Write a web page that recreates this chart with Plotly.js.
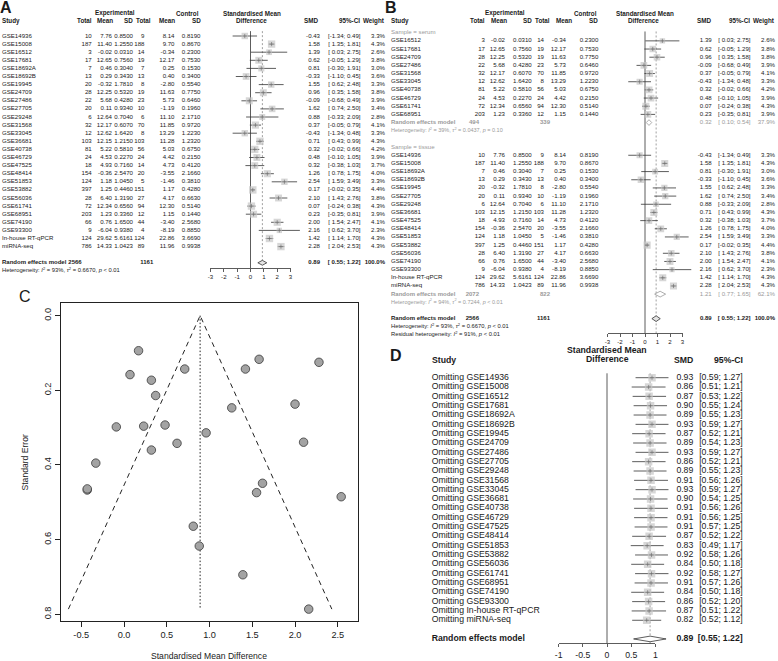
<!DOCTYPE html>
<html><head><meta charset="utf-8">
<script src="https://cdn.plot.ly/plotly-3.0.1.min.js"></script>
<style>html,body{margin:0;padding:0;background:#fff;} #chart{width:778px;height:661px;}</style>
</head><body><div id="chart"></div>
<script>
// ================= DATA =================
const studies = ["GSE14936","GSE15008","GSE16512","GSE17681","GSE18692A","GSE18692B","GSE19945","GSE24709","GSE27486","GSE27705","GSE29248","GSE31568","GSE33045","GSE36681","GSE40738","GSE46729","GSE47525","GSE48414","GSE51853","GSE53882","GSE56036","GSE61741","GSE68951","GSE74190","GSE93300","In-house RT-qPCR","miRNA-seq"];
const expTotal = [10,187,3,17,7,13,20,28,22,20,6,32,12,103,81,24,18,154,124,397,28,72,203,66,9,124,786];
const expMean = [7.76,11.40,-0.02,12.65,0.46,0.29,-0.32,12.25,5.68,0.11,12.64,12.17,12.62,12.15,5.22,4.53,4.93,-0.36,1.18,1.25,6.40,12.34,1.23,0.76,-6.04,29.62,14.33];
const expSD = [0.8500,1.2550,0.0310,0.7560,0.3040,0.3430,1.7810,0.5320,0.4280,0.9340,0.7040,0.6070,1.6420,1.2150,0.5810,0.2270,0.7160,2.5470,1.0450,0.4460,1.3190,0.6560,0.3360,1.6500,0.9380,5.6161,1.0423];
const ctrlTotal = [9,188,14,19,7,13,8,19,23,10,6,70,8,103,56,24,14,20,5,151,27,94,12,44,4,124,89];
const ctrlMean = [8.14,9.70,-0.34,12.17,0.25,0.40,-2.80,11.63,5.73,-1.19,11.10,11.85,13.29,11.28,5.03,4.42,4.73,-3.55,-1.46,1.17,4.17,12.30,1.15,-3.40,-8.19,22.86,11.96];
const ctrlSD = [0.8190,0.8670,0.2300,0.7530,0.1530,0.3400,0.5540,0.7750,0.6460,0.1960,2.1710,0.9720,1.2230,1.2320,0.6750,0.2150,0.4120,2.1660,0.3810,0.4280,0.6630,0.5140,0.1440,2.5680,0.8850,3.6690,0.9938];
const smd = [-0.43,1.58,1.39,0.62,0.81,-0.33,1.55,0.96,-0.09,1.62,0.88,0.37,-0.43,0.71,0.32,0.48,0.32,1.26,2.54,0.17,2.10,0.07,0.23,2.00,2.16,1.42,2.28];
const ciLower = [-1.34,1.35,0.03,-0.05,-0.30,-1.10,0.62,0.35,-0.68,0.74,-0.33,-0.05,-1.34,0.43,-0.02,-0.10,-0.38,0.78,1.59,-0.02,1.43,-0.24,-0.35,1.54,0.62,1.14,2.04];
const ciUpper = [0.49,1.81,2.75,1.29,1.91,0.45,2.48,1.58,0.49,2.50,2.09,0.79,0.48,0.99,0.66,1.05,1.03,1.75,3.49,0.35,2.76,0.38,0.81,2.47,3.70,1.70,2.53];
const weightPct = [3.3,4.3,2.6,3.8,3.0,3.6,3.3,3.8,3.9,3.4,2.8,4.1,3.3,4.3,4.2,3.9,3.7,4.0,3.3,4.4,3.8,4.3,3.9,4.1,2.3,4.3,4.3];
const sampleType = ["tissue","tissue","serum","serum","tissue","tissue","tissue","serum","serum","tissue","tissue","serum","serum","tissue","serum","serum","tissue","tissue","tissue","tissue","tissue","serum","serum","tissue","tissue","tissue","tissue"];
const stdErr = [0.467,0.117,0.694,0.342,0.564,0.395,0.474,0.314,0.298,0.449,0.617,0.214,0.464,0.143,0.173,0.293,0.360,0.247,0.485,0.094,0.339,0.158,0.296,0.237,0.786,0.143,0.125];

const overallSMD = 0.89, overallLower = 0.55, overallUpper = 1.22;
const overallExpTotal = 2566, overallCtrlTotal = 1161;
const overallI2 = 93, overallTau2 = 0.6670, overallP = "< 0.01";
const residualI2 = 91, residualP = "< 0.01";

const groups = ["serum","tissue"];
const groupSMD = [0.32,1.21];
const groupLower = [0.10,0.77];
const groupUpper = [0.54,1.65];
const groupWeight = [37.9,62.1];
const groupExpTotal = [494,2072];
const groupCtrlTotal = [339,822];
const groupI2 = [39,94];
const groupTau2 = [0.0437,0.7244];
const groupP = ["= 0.10","< 0.01"];

const looSMD = [0.93,0.86,0.87,0.90,0.89,0.93,0.87,0.89,0.93,0.86,0.89,0.91,0.93,0.90,0.91,0.91,0.91,0.87,0.83,0.92,0.84,0.92,0.91,0.84,0.86,0.87,0.82];
const looLower = [0.59,0.51,0.53,0.55,0.55,0.59,0.52,0.54,0.59,0.52,0.55,0.56,0.59,0.54,0.56,0.56,0.57,0.52,0.49,0.58,0.50,0.58,0.57,0.50,0.52,0.51,0.52];
const looUpper = [1.27,1.21,1.22,1.24,1.23,1.27,1.21,1.23,1.27,1.21,1.23,1.26,1.27,1.25,1.26,1.25,1.25,1.22,1.17,1.26,1.18,1.27,1.26,1.18,1.20,1.22,1.12];

const forestTicks = [-3,-2,-1,0,1,2,3];
const looTicks = [-1,-0.5,0,0.5,1];
const funnelXTicks = [-0.5,0,0.5,1,1.5,2,2.5];
const funnelYTicks = [0,0.2,0.4,0.6,0.8];

// ================= STYLE / LAYOUT CONSTANTS =================
const W = 778, H = 661;
const FONT = "Liberation Sans, Arial, Helvetica, sans-serif";
const TXT = "#1a1a1a", GRAY = "#9a9a9a";
const NB = "\u00a0";
const A = {y0:36, step:8.1, zero:250.5, unit:13.35, axisY:268, lineTop:-0.6};
const B = {y0:32.7, step:8.17, zero:645, unit:12.5, axisY:333.3, lineTop:-0.15};
const D = {y0:377.7, step:9.33, zero:607, unit:48.4, axisY:643.3, lineTop:-0.47};
const colA = {study:2, expTotal:91.7, expMean:112, expSD:133, ctrlTotal:144.5, ctrlMean:174.5, ctrlSD:200.5, smd:320, ci:360.5, weight:385, sumExp:81.7, sumCtrl:153.3};
const colB = {study:391, expTotal:485, expMean:505, expSD:531.7, ctrlTotal:544, ctrlMean:566, ctrlSD:598.3, smd:711.7, ci:750.5, weight:775, sumExp:479, sumCtrl:550};
const colD = {study:431.7, smd:693.3, ci:742.7};
const fsT = 6.1, fsS = 6.0, fsH = 6.3, fsHet = 5.8, fsD = 8.7;

const rowOf = (cfg, p) => (p - cfg.y0) / cfg.step;
const rowRange = cfg => [(H - cfg.y0) / cfg.step, -cfg.y0 / cfg.step];
const dom = (cfg, lo, hi) => [(cfg.zero + cfg.unit * lo) / W, (cfg.zero + cfg.unit * hi) / W];
const esc = s => s.replace(/</g, "&lt;");
const fmtCI = (lo, hi, pad) => "[" + (pad && lo >= 0 ? NB : "") + lo.toFixed(2) + "; " + hi.toFixed(2) + "]";
const hetText = (i2, tau2, p) => "Heterogeneity: <i>I</i><sup>2</sup> = " + i2 + "%, <i>τ</i><sup>2</sup> = " + tau2.toFixed(4) + ", <i>p</i> " + esc(p);
const bold = s => "<b>" + s + "</b>";

const traces = [];
function textTrace(xpx, yaxis, rows, texts, align, size, color) {
  traces.push({type:"scatter", mode:"text", x: rows.map(() => xpx), y: rows, text: texts,
    textposition: align === "right" ? "middle left" : (align === "left" ? "middle right" : "middle center"),
    textfont: {family: FONT, size: size, color: color || TXT}, xaxis: "x", yaxis: yaxis,
    hoverinfo: "skip", cliponaxis: false, showlegend: false});
}
function forestMarks(xa, ya, rows, est, lo, hi, sizes) {
  const lx = [], ly = [];
  rows.forEach((r, k) => { lx.push(lo[k], hi[k], null); ly.push(r, r, null); });
  traces.push({type:"scatter", mode:"lines", x: lx, y: ly, line:{color:"#333", width:0.8}, xaxis: xa, yaxis: ya, hoverinfo:"skip", showlegend:false});
  traces.push({type:"scatter", mode:"markers", x: est, y: rows, marker:{symbol:"square", size: sizes, color:"#c6c6c6", line:{width:0}}, xaxis: xa, yaxis: ya, hoverinfo:"skip", showlegend:false});
  traces.push({type:"scatter", mode:"markers", x: est, y: rows, marker:{symbol:"cross-thin", size:3, color:"#666", line:{color:"#666", width:0.6}}, xaxis: xa, yaxis: ya, hoverinfo:"skip", showlegend:false});
}
function diamond(xa, ya, row, est, lo, hi, half, fill, lc) {
  traces.push({type:"scatter", mode:"lines", x:[lo, est, hi, est, lo], y:[row, row - half, row, row + half, row],
    fill:"toself", fillcolor: fill, line:{color: lc, width:0.8}, xaxis: xa, yaxis: ya, hoverinfo:"skip", showlegend:false});
}
function tickHolder(xa, ya, ticks) {
  traces.push({type:"scatter", mode:"markers", x:[ticks[0], ticks[ticks.length-1]], y:[0, 0], marker:{opacity:0, size:1}, xaxis: xa, yaxis: ya, hoverinfo:"skip", showlegend:false});
}
const shapes = [];
function vline(xa, ya, x, r0, r1, color, dash) {
  shapes.push({type:"line", xref: xa, yref: ya, x0: x, x1: x, y0: r0, y1: r1, line:{color: color, width: dash ? 1 : 0.8, dash: dash || "solid"}, layer:"below"});
}

// ================= PANEL A =================
const rowsA = studies.map((_, i) => i);
textTrace(colA.study, "y", rowsA, studies, "left", fsT);
textTrace(colA.expTotal, "y", rowsA, expTotal.map(String), "right", fsT);
textTrace(colA.expMean, "y", rowsA, expMean.map(v => v.toFixed(2)), "right", fsT);
textTrace(colA.expSD, "y", rowsA, expSD.map(v => v.toFixed(4)), "right", fsT);
textTrace(colA.ctrlTotal, "y", rowsA, ctrlTotal.map(String), "right", fsT);
textTrace(colA.ctrlMean, "y", rowsA, ctrlMean.map(v => v.toFixed(2)), "right", fsT);
textTrace(colA.ctrlSD, "y", rowsA, ctrlSD.map(v => v.toFixed(4)), "right", fsT);
textTrace(colA.smd, "y", rowsA, smd.map(v => v.toFixed(2)), "right", fsT);
textTrace(colA.ci, "y", rowsA, smd.map((_, i) => fmtCI(ciLower[i], ciUpper[i], true)), "right", fsT);
textTrace(colA.weight, "y", rowsA, weightPct.map(w => w.toFixed(1) + "%"), "right", fsT);
const sumRowA = studies.length + 1, hetRowA = sumRowA + 1;
textTrace(colA.study, "y", [sumRowA], [bold("Random effects model")], "left", fsS);
textTrace(colA.sumExp, "y", [sumRowA], [bold(String(overallExpTotal))], "right", fsS);
textTrace(colA.sumCtrl, "y", [sumRowA], [bold(String(overallCtrlTotal))], "right", fsS);
textTrace(colA.smd, "y", [sumRowA], [bold(overallSMD.toFixed(2))], "right", fsS);
textTrace(colA.ci, "y", [sumRowA], [bold(fmtCI(overallLower, overallUpper, true))], "right", fsS);
textTrace(colA.weight, "y", [sumRowA], [bold("100.0%")], "right", fsS);
textTrace(colA.study, "y", [hetRowA], [hetText(overallI2, overallTau2, overallP)], "left", fsHet);
vline("x2", "y", 0, A.lineTop, rowOf(A, A.axisY), "#333");
vline("x2", "y", overallSMD, A.lineTop, rowOf(A, A.axisY), "#a0a0a0", "2px,2px");
forestMarks("x2", "y", rowsA, smd, ciLower, ciUpper, weightPct.map(w => 3.55 * Math.sqrt(w)));
diamond("x2", "y", sumRowA, overallSMD, overallLower, overallUpper, 0.3, "#e4e4e4", "#333");
tickHolder("x3", "y", forestTicks);

// ================= PANEL B =================
let r = 0;
const bStudyIdx = [], bStudyRow = [], bLabelRow = [], bSumRow = [], bHetRow = [];
groups.forEach(g => {
  bLabelRow.push(r); r++;
  studies.forEach((s, i) => { if (sampleType[i] === g) { bStudyIdx.push(i); bStudyRow.push(r); r++; } });
  bSumRow.push(r); r++;
  bHetRow.push(r); r++;
  r++;
});
const bOverallRow = r, bOverallHetRow = r + 1, bResidRow = r + 2;
const pick = arr => bStudyIdx.map(i => arr[i]);
textTrace(colB.study, "y2", bLabelRow, groups.map(g => "Sample = " + g), "left", fsT, GRAY);
textTrace(colB.study, "y2", bStudyRow, pick(studies), "left", fsT);
textTrace(colB.expTotal, "y2", bStudyRow, pick(expTotal).map(String), "right", fsT);
textTrace(colB.expMean, "y2", bStudyRow, pick(expMean).map(v => v.toFixed(2)), "right", fsT);
textTrace(colB.expSD, "y2", bStudyRow, pick(expSD).map(v => v.toFixed(4)), "right", fsT);
textTrace(colB.ctrlTotal, "y2", bStudyRow, pick(ctrlTotal).map(String), "right", fsT);
textTrace(colB.ctrlMean, "y2", bStudyRow, pick(ctrlMean).map(v => v.toFixed(2)), "right", fsT);
textTrace(colB.ctrlSD, "y2", bStudyRow, pick(ctrlSD).map(v => v.toFixed(4)), "right", fsT);
textTrace(colB.smd, "y2", bStudyRow, pick(smd).map(v => v.toFixed(2)), "right", fsT);
textTrace(colB.ci, "y2", bStudyRow, bStudyIdx.map(i => fmtCI(ciLower[i], ciUpper[i], true)), "right", fsT);
textTrace(colB.weight, "y2", bStudyRow, pick(weightPct).map(w => w.toFixed(1) + "%"), "right", fsT);
// subgroup summaries (grey)
textTrace(colB.study, "y2", bSumRow, groups.map(() => bold("Random effects model")), "left", fsS, GRAY);
textTrace(colB.sumExp, "y2", bSumRow, groupExpTotal.map(v => bold(String(v))), "right", fsS, GRAY);
textTrace(colB.sumCtrl, "y2", bSumRow, groupCtrlTotal.map(v => bold(String(v))), "right", fsS, GRAY);
textTrace(colB.smd, "y2", bSumRow, groupSMD.map(v => v.toFixed(2)), "right", fsT, GRAY);
textTrace(colB.ci, "y2", bSumRow, groupSMD.map((_, k) => fmtCI(groupLower[k], groupUpper[k], true)), "right", fsT, GRAY);
textTrace(colB.weight, "y2", bSumRow, groupWeight.map(w => w.toFixed(1) + "%"), "right", fsT, GRAY);
textTrace(colB.study, "y2", bHetRow, groups.map((_, k) => hetText(groupI2[k], groupTau2[k], groupP[k])), "left", fsHet - 0.3, GRAY);
// overall
textTrace(colB.study, "y2", [bOverallRow], [bold("Random effects model")], "left", fsS);
textTrace(colB.sumExp, "y2", [bOverallRow], [bold(String(overallExpTotal))], "right", fsS);
textTrace(colB.sumCtrl, "y2", [bOverallRow], [bold(String(overallCtrlTotal))], "right", fsS);
textTrace(colB.smd, "y2", [bOverallRow], [bold(overallSMD.toFixed(2))], "right", fsS);
textTrace(colB.ci, "y2", [bOverallRow], [bold(fmtCI(overallLower, overallUpper, true))], "right", fsS);
textTrace(colB.weight, "y2", [bOverallRow], [bold("100.0%")], "right", fsS);
textTrace(colB.study, "y2", [bOverallHetRow], [hetText(overallI2, overallTau2, overallP)], "left", fsHet);
textTrace(colB.study, "y2", [bResidRow], ["Residual heterogeneity: <i>I</i><sup>2</sup> = " + residualI2 + "%, <i>p</i> " + esc(residualP)], "left", fsHet);
vline("x4", "y2", 0, B.lineTop, rowOf(B, B.axisY), "#333");
vline("x4", "y2", overallSMD, B.lineTop, rowOf(B, B.axisY), "#a0a0a0", "2px,2px");
forestMarks("x4", "y2", bStudyRow, pick(smd), pick(ciLower), pick(ciUpper), pick(weightPct).map(w => 3.4 * Math.sqrt(w)));
groups.forEach((g, k) => diamond("x4", "y2", bSumRow[k], groupSMD[k], groupLower[k], groupUpper[k], 0.35, "#ffffff", "#999"));
diamond("x4", "y2", bOverallRow, overallSMD, overallLower, overallUpper, 0.35, "#e4e4e4", "#333");
tickHolder("x5", "y2", forestTicks);

// ================= PANEL D =================
const rowsD = studies.map((_, i) => i);
const sumRowD = studies.length + 1;
textTrace(colD.study, "y3", rowsD, studies.map(s => "Omitting " + s), "left", fsD);
textTrace(colD.smd, "y3", rowsD, looSMD.map(v => v.toFixed(2)), "right", fsD);
textTrace(colD.ci, "y3", rowsD, looSMD.map((_, i) => fmtCI(looLower[i], looUpper[i], false)), "right", fsD);
textTrace(colD.study, "y3", [sumRowD], [bold("Random effects model")], "left", fsD);
textTrace(colD.smd, "y3", [sumRowD], [bold(overallSMD.toFixed(2))], "right", fsD);
textTrace(colD.ci, "y3", [sumRowD], [bold(fmtCI(overallLower, overallUpper, false))], "right", fsD);
vline("x6", "y3", 0, D.lineTop, rowOf(D, D.axisY), "#333");
vline("x6", "y3", overallSMD, D.lineTop, rowOf(D, D.axisY), "#a0a0a0", "2px,2px");
forestMarks("x6", "y3", rowsD, looSMD, looLower, looUpper, rowsD.map(() => 7.5));
diamond("x6", "y3", sumRowD, overallSMD, overallLower, overallUpper, 0.3, "#ffffff", "#333");
tickHolder("x7", "y3", looTicks);

// ================= PANEL C (funnel) =================
const maxSE = Math.max(...stdErr);
traces.push({type:"scatter", mode:"lines", x:[overallSMD - 1.96 * maxSE, overallSMD, overallSMD + 1.96 * maxSE], y:[maxSE, 0, maxSE],
  line:{color:"#222", width:1, dash:"5px,4px"}, xaxis:"x8", yaxis:"y4", hoverinfo:"skip", showlegend:false});
traces.push({type:"scatter", mode:"lines", x:[overallSMD, overallSMD], y:[0, maxSE],
  line:{color:"#222", width:1, dash:"1.5px,2px"}, xaxis:"x8", yaxis:"y4", hoverinfo:"skip", showlegend:false});
traces.push({type:"scatter", mode:"markers", x: smd, y: stdErr,
  marker:{size:8.5, color:"#a3a3a3", line:{color:"#3a3a3a", width:0.8}}, xaxis:"x8", yaxis:"y4", hoverinfo:"skip", showlegend:false});

// ================= LAYOUT =================
const hidden = {visible:false, showgrid:false, zeroline:false, fixedrange:true};
const tickAxis = (size) => ({showline:true, linecolor:"#333", linewidth:0.8, ticks:"outside", ticklen:3, tickwidth:0.8, tickcolor:"#333",
  showgrid:false, zeroline:false, fixedrange:true, tickfont:{family:FONT, size:size, color:TXT}, tickmode:"array"});

function ann(text, x, y, xanchor, size, extra) {
  return Object.assign({text: text, x: x / W, y: 1 - y / H, xref:"paper", yref:"paper", xanchor: xanchor, yanchor:"middle",
    showarrow:false, borderpad:0, borderwidth:0, font:{family:FONT, size:size, color:TXT}}, extra || {});
}
const annotations = [
  // A
  ann("<b>A</b>", 0, 7.5, "left", 16),
  ann("<b>Experimental</b>", 115, 13.3, "center", fsH),
  ann("<b>Control</b>", 187.5, 13.3, "center", fsH),
  ann("<b>Standardised Mean</b>", 251.7, 13.3, "center", fsH),
  ann("<b>Difference</b>", 252, 21, "center", fsH),
  ann("<b>Study</b>", colA.study, 21, "left", fsH),
  ann("<b>Total</b>", 91.7, 21, "right", fsH),
  ann("<b>Mean</b>", 112.7, 21, "right", fsH),
  ann("<b>SD</b>", 133.3, 21, "right", fsH),
  ann("<b>Total</b>", 135.5, 21, "left", fsH),
  ann("<b>Mean</b>", 175, 21, "right", fsH),
  ann("<b>SD</b>", 200.5, 21, "right", fsH),
  ann("<b>SMD</b>", 318, 21, "right", fsH),
  ann("<b>95%-CI</b>", 360, 21, "right", fsH),
  ann("<b>Weight</b>", 385, 21, "right", fsH),
  // B
  ann("<b>B</b>", 385, 7.5, "left", 16),
  ann("<b>Experimental</b>", 505, 13.3, "center", fsH),
  ann("<b>Control</b>", 585, 13.3, "center", fsH),
  ann("<b>Standardised Mean</b>", 645, 13.3, "center", fsH),
  ann("<b>Difference</b>", 643, 21, "center", fsH),
  ann("<b>Study</b>", colB.study, 21, "left", fsH),
  ann("<b>Total</b>", 485, 21, "right", fsH),
  ann("<b>Mean</b>", 506.7, 21, "right", fsH),
  ann("<b>SD</b>", 531.7, 21, "right", fsH),
  ann("<b>Total</b>", 535, 21, "left", fsH),
  ann("<b>Mean</b>", 572, 21, "right", fsH),
  ann("<b>SD</b>", 598.3, 21, "right", fsH),
  ann("<b>SMD</b>", 710.7, 21, "right", fsH),
  ann("<b>95%-CI</b>", 750, 21, "right", fsH),
  ann("<b>Weight</b>", 775, 21, "right", fsH),
  // C
  ann("C", 19, 296.7, "left", 16),
  ann("Standard Error", 25, 462.5, "center", 8.6, {textangle:-90}),
  ann("Standardised Mean Difference", 209, 656, "center", 8.6),
  // D
  ann("<b>D</b>", 390, 355, "left", 16),
  ann("<b>Standardised Mean</b>", 607, 350, "center", fsD),
  ann("<b>Difference</b>", 607, 359.3, "center", fsD),
  ann("<b>Study</b>", colD.study, 360, "left", fsD),
  ann("<b>SMD</b>", 693.3, 360, "right", fsD),
  ann("<b>95%-CI</b>", 743, 360, "right", fsD)
];

const layout = {
  width: W, height: H, margin:{l:0, r:0, t:0, b:0, pad:0},
  paper_bgcolor:"#ffffff", plot_bgcolor:"rgba(0,0,0,0)", showlegend:false,
  font:{family:FONT, color:TXT},
  xaxis: Object.assign({domain:[0,1], range:[0,W], anchor:"y"}, hidden),
  yaxis: Object.assign({domain:[0,1], range:rowRange(A), anchor:"x"}, hidden),
  yaxis2: Object.assign({domain:[0,1], range:rowRange(B), anchor:"x"}, hidden),
  yaxis3: Object.assign({domain:[0,1], range:rowRange(D), anchor:"x"}, hidden),
  xaxis2: Object.assign({domain:dom(A,-4,4.3), range:[-4,4.3], anchor:"y"}, hidden),
  xaxis3: Object.assign(tickAxis(fsT), {domain:dom(A,-3,3), range:[-3,3], anchor:"free", position:1 - A.axisY / H,
    tickvals:forestTicks, ticktext:forestTicks.map(String)}),
  xaxis4: Object.assign({domain:dom(B,-4,4.3), range:[-4,4.3], anchor:"y2"}, hidden),
  xaxis5: Object.assign(tickAxis(fsT), {domain:dom(B,-3,3), range:[-3,3], anchor:"free", position:1 - B.axisY / H,
    tickvals:forestTicks, ticktext:forestTicks.map(String)}),
  xaxis6: Object.assign({domain:dom(D,-1,1.5), range:[-1,1.5], anchor:"y3"}, hidden),
  xaxis7: Object.assign(tickAxis(fsD), {domain:dom(D,-1,1), range:[-1,1], anchor:"free", position:1 - D.axisY / H,
    tickvals:looTicks, ticktext:looTicks.map(String)}),
  xaxis8: {domain:[61 / W, 358.3 / W], range:[-0.737, 2.74], anchor:"y4", showline:true, mirror:true, linecolor:"#222", linewidth:1,
    ticks:"outside", ticklen:5, tickwidth:1, tickcolor:"#222", showgrid:false, zeroline:false, fixedrange:true,
    tickmode:"array", tickvals:funnelXTicks, ticktext:funnelXTicks.map(v => v.toFixed(1)), tickfont:{family:FONT, size:9.2, color:TXT}},
  yaxis4: {domain:[1 - 620.7 / H, 1 - 303.3 / H], range:[0.817, -0.033], anchor:"x8", showline:true, mirror:true, linecolor:"#222", linewidth:1,
    ticks:"outside", ticklen:5, tickwidth:1, tickcolor:"#222", showgrid:false, zeroline:false, fixedrange:true, tickangle:-90,
    tickmode:"array", tickvals:funnelYTicks, ticktext:funnelYTicks.map(v => v.toFixed(1)), tickfont:{family:FONT, size:9.2, color:TXT}},
  shapes: shapes,
  annotations: annotations
};

Plotly.newPlot("chart", traces, layout, {staticPlot:true, displayModeBar:false});
</script>
</body></html>
